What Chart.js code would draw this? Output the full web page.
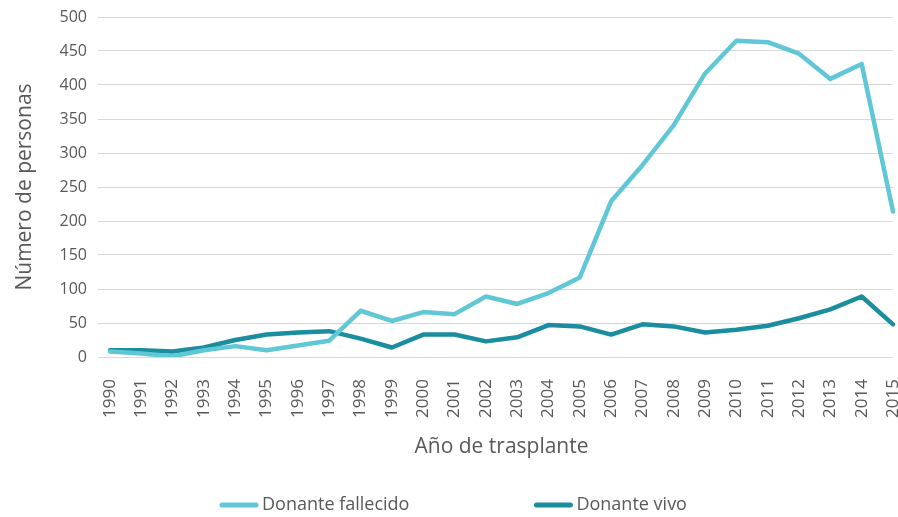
<!DOCTYPE html>
<html>
<head>
<meta charset="utf-8">
<script src="https://cdn.jsdelivr.net/npm/chart.js@4.4.0/dist/chart.umd.min.js"></script>
<style>
  html, body { margin: 0; padding: 0; background: #fff; }
  #wrap { width: 898px; height: 517px; }
</style>
</head>
<body>
<div id="wrap"><canvas id="chart" width="898" height="517"></canvas></div>
<script>
// Trasplantes por año y tipo de donante
const years = ['1990', '1991', '1992', '1993', '1994', '1995', '1996', '1997', '1998', '1999',
  '2000', '2001', '2002', '2003', '2004', '2005', '2006', '2007', '2008', '2009',
  '2010', '2011', '2012', '2013', '2014', '2015'];
const donanteFallecido = [8, 5, 1, 10, 16, 10, 17, 24, 68, 53,
  66, 63, 89, 78, 94, 117, 229, 282, 341, 417,
  465, 463, 446, 409, 431, 214];
const donanteVivo = [10, 10, 8, 14, 25, 33, 36, 38, 27, 14,
  33, 33, 23, 29, 47, 45, 33, 48, 45, 36,
  40, 46, 57, 70, 89, 48];
const yTicks = [0, 50, 100, 150, 200, 250, 300, 350, 400, 450, 500];

const LIGHT = '#5fc7d5';
const DARK = '#1a8d9e';
const TEXT = '#595959';
const FONT = '"Open Sans", Lato, sans-serif';

// Excel-style legend: wide gap between the two entries
const wideLegend = {
  id: 'wideLegend',
  afterDraw(chart) {
    const ctx = chart.ctx;
    const y = 505;
    const gap = 125;
    let x = 220;
    ctx.save();
    ctx.font = '18px ' + FONT;
    ctx.textBaseline = 'middle';
    chart.data.datasets.forEach(ds => {
      ctx.strokeStyle = ds.borderColor;
      ctx.lineWidth = 5;
      ctx.lineCap = 'round';
      ctx.beginPath();
      ctx.moveTo(x + 2, y);
      ctx.lineTo(x + 36, y);
      ctx.stroke();
      ctx.fillStyle = TEXT;
      ctx.fillText(ds.label, x + 42, y);
      x += 42 + ctx.measureText(ds.label).width + gap;
    });
    ctx.restore();
  },
};

new Chart(document.getElementById('chart'), {
  type: 'line',
  data: {
    labels: years,
    datasets: [
      {
        label: 'Donante fallecido',
        data: donanteFallecido,
        borderColor: LIGHT,
        backgroundColor: LIGHT,
        borderWidth: 4.5,
        pointRadius: 0,
        tension: 0,
        borderCapStyle: 'round',
        borderJoinStyle: 'round',
      },
      {
        label: 'Donante vivo',
        data: donanteVivo,
        borderColor: DARK,
        backgroundColor: DARK,
        borderWidth: 4.5,
        pointRadius: 0,
        tension: 0,
        borderCapStyle: 'round',
        borderJoinStyle: 'round',
      },
    ],
  },
  plugins: [wideLegend],
  options: {
    responsive: false,
    animation: false,
    layout: { padding: { left: 0, right: 0, top: 17, bottom: 50 } },
    plugins: {
      tooltip: { enabled: false },
      legend: { display: false },
    },
    scales: {
      x: {
        grid: { display: false },
        border: { display: false },
        afterFit(scale) {
          scale.height = 110;
          scale.paddingLeft = 0;
          scale.paddingRight = 5;
        },
        ticks: {
          color: TEXT,
          font: { family: FONT, size: 17 },
          minRotation: 90,
          maxRotation: 90,
          autoSkip: false,
          padding: 14,
        },
        title: {
          display: true,
          text: 'Año de trasplante',
          color: TEXT,
          font: { family: FONT, size: 21 },
          padding: { top: 0, bottom: 7 },
        },
      },
      y: {
        min: 0,
        max: 500,
        afterBuildTicks(axis) {
          axis.ticks = yTicks.map(v => ({ value: v }));
        },
        afterFit(scale) {
          scale.width = 110;
          scale.paddingTop = 0;
          scale.paddingBottom = 0;
        },
        grid: { color: '#d9d9d9', lineWidth: 1, tickLength: 12 },
        border: { display: false },
        ticks: {
          color: TEXT,
          font: { family: FONT, size: 16 },
          padding: 11,
        },
        title: {
          display: true,
          text: 'Número de personas',
          color: TEXT,
          font: { family: FONT, size: 21 },
          padding: { top: 12, bottom: 0 },
        },
      },
    },
  },
});
</script>
</body>
</html>
